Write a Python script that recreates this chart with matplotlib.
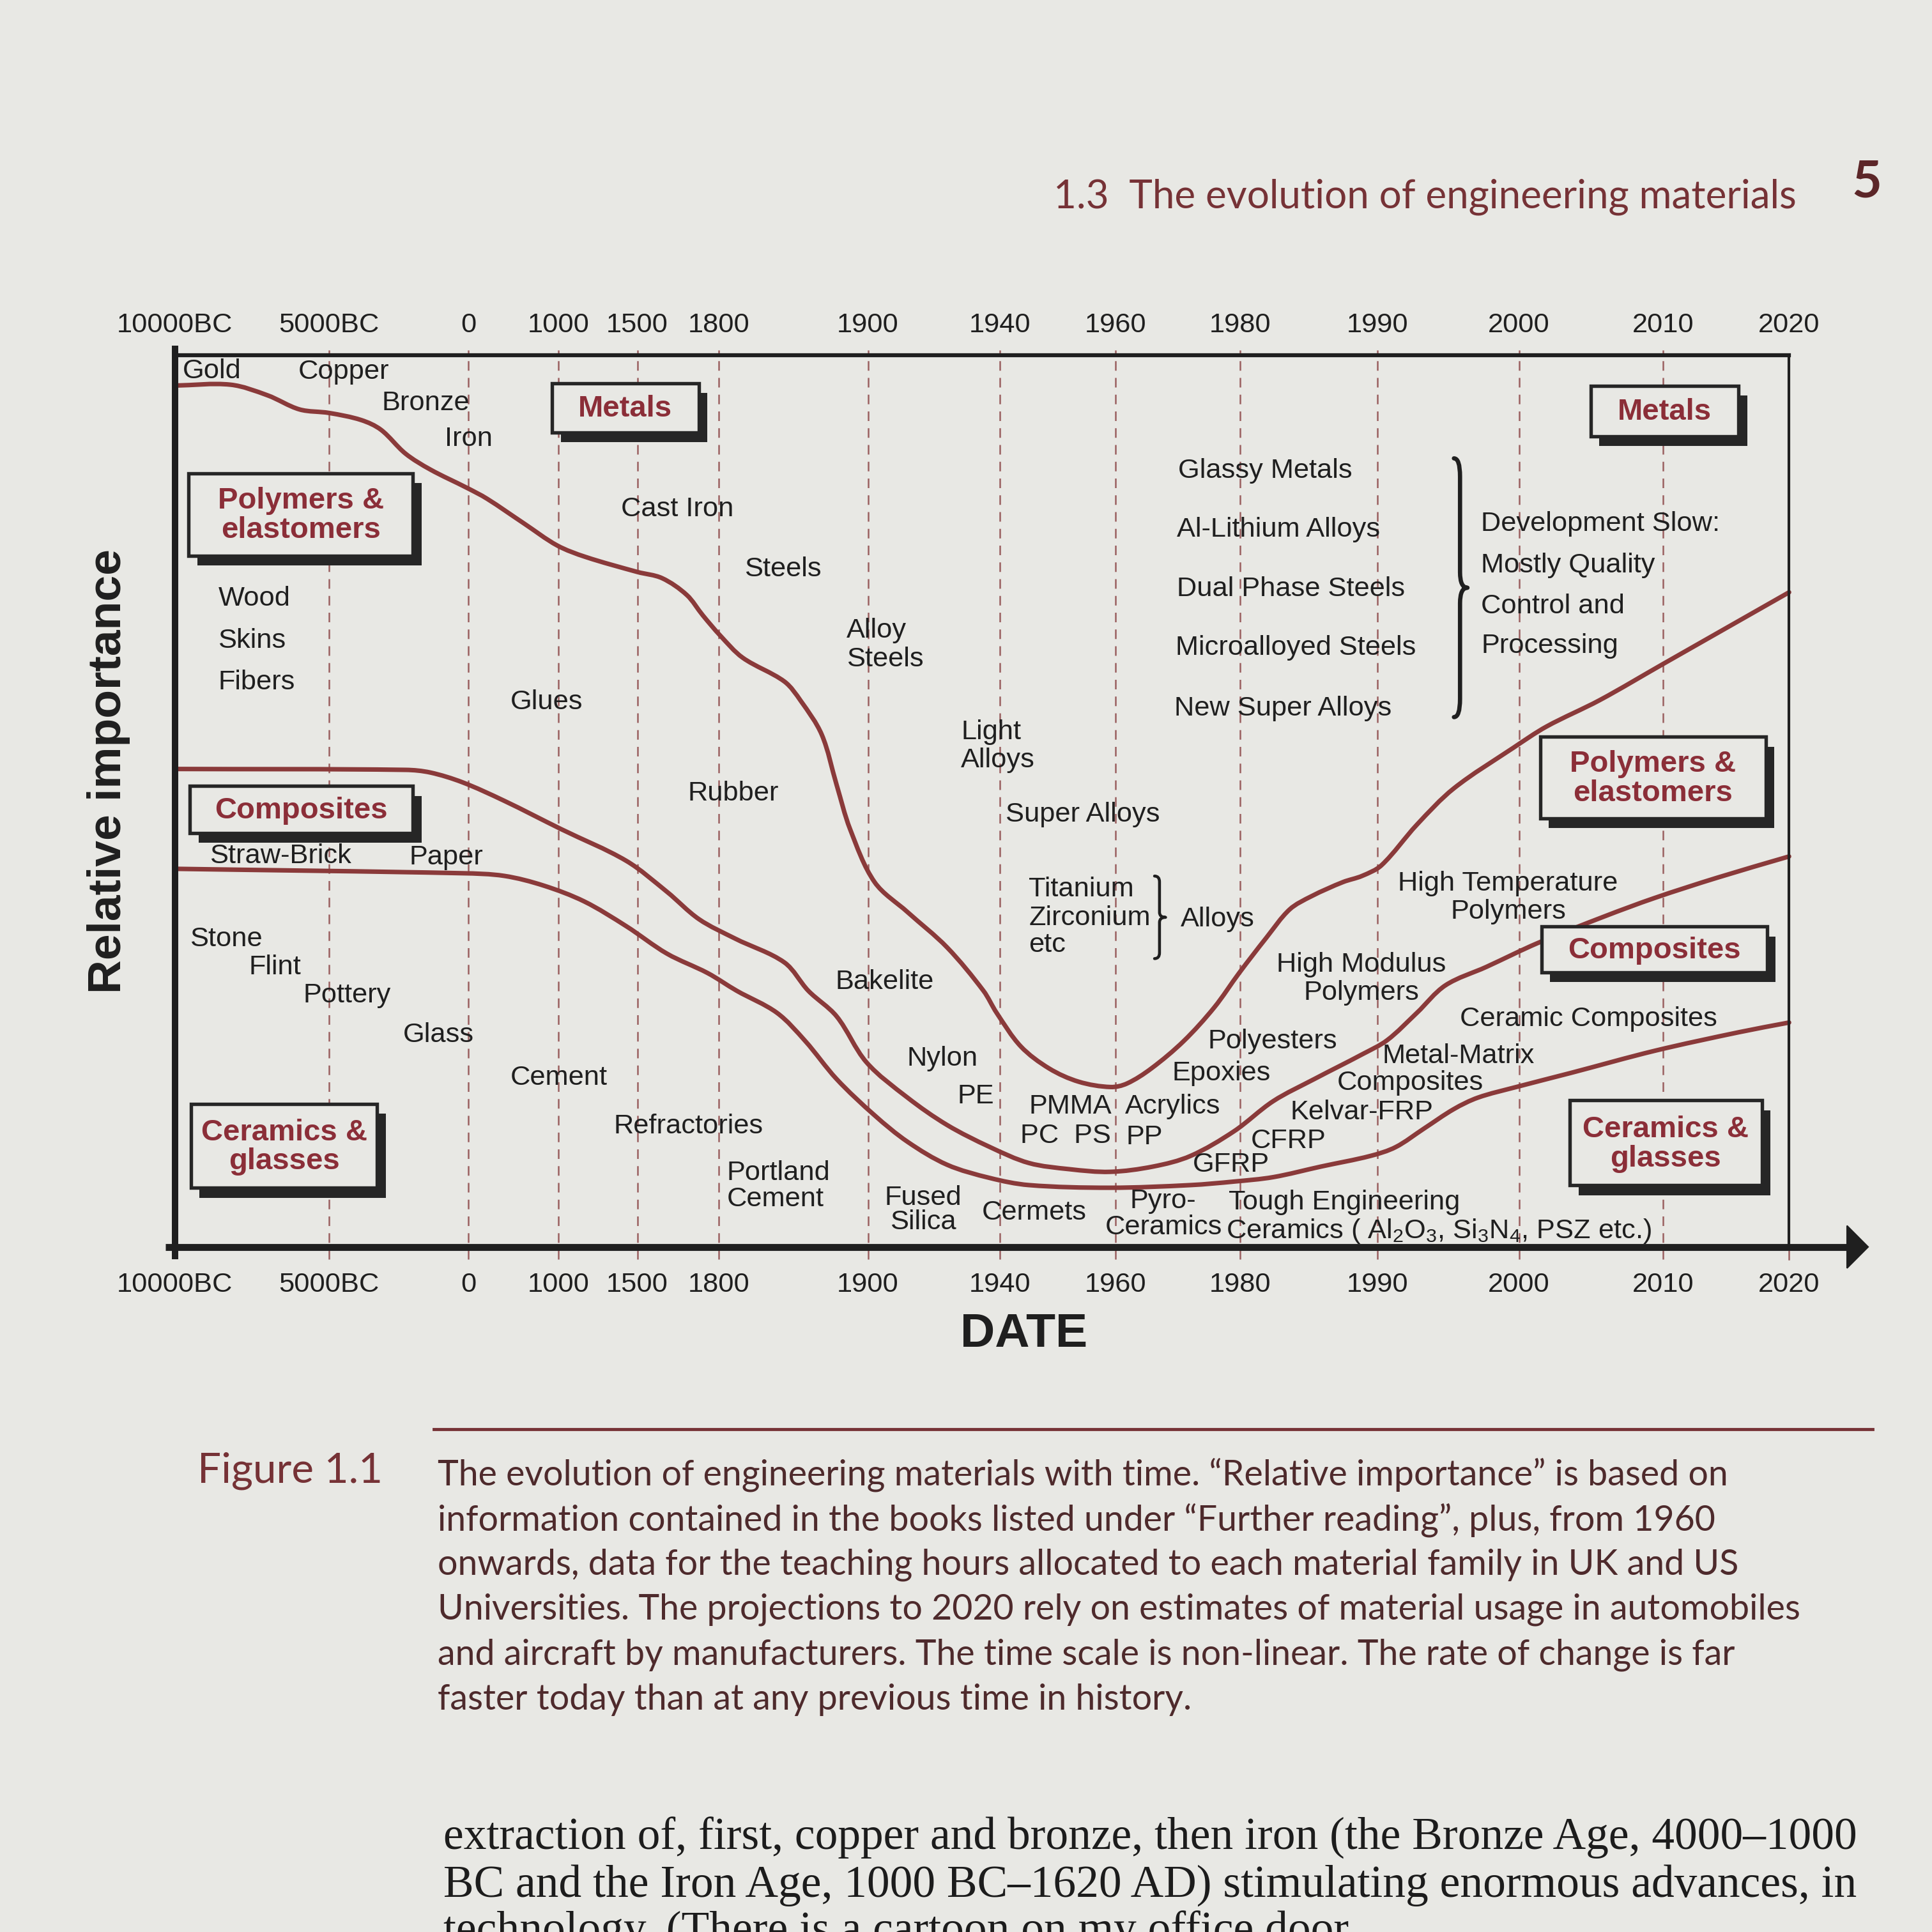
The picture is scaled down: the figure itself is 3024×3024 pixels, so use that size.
import numpy as np
import matplotlib
matplotlib.use("Agg")
import matplotlib.pyplot as plt
from matplotlib.patches import Rectangle, Polygon, PathPatch
from matplotlib.path import Path
from matplotlib.ticker import NullLocator

# ---------------------------------------------------------------- data
TICK_YEARS = [-10000, -5000, 0, 1000, 1500, 1800, 1900, 1940, 1960, 1980, 1990, 2000, 2010, 2020]
TICK_LABELS = ["10000BC", "5000BC", "0", "1000", "1500", "1800", "1900", "1940",
               "1960", "1980", "1990", "2000", "2010", "2020"]

# boundary between the metals band and the polymers band (relative importance, %)
METALS_POLY_YEAR = [-10000, -8200, -7000, -5960, -5000, -3850, -3140, -2260, -1370, -40,
                    205, 616, 986, 1172, 1500, 1591, 1682, 1741, 1801, 1816,
                    1844, 1855, 1869, 1879, 1888, 1902, 1912, 1924, 1935, 1939,
                    1943.6, 1948.5, 1953.6, 1959.1, 1961.8, 1965.7, 1970.9, 1975.8, 1979.8, 1981.9,
                    1983.6, 1985.2, 1987.5, 1988.9, 1990.3, 1992.8, 1995.4, 1999.6, 2001.9, 2005.6,
                    2010, 2020]
METALS_POLY_LEVEL = [97.5, 97.6, 96.4, 94.8, 94.4, 93.6, 92.5, 89.8, 88.0, 85.9,
                     84.7, 81.9, 79.4, 78.1, 76.4, 75.7, 73.8, 71.5, 69.2, 66.7,
                     64.0, 61.8, 58.0, 52.3, 47.3, 41.3, 37.9, 33.9, 29.0, 26.5,
                     22.7, 20.2, 18.7, 18.1, 18.5, 20.2, 23.3, 27.1, 31.0, 35.0,
                     38.2, 39.7, 41.3, 42.0, 43.2, 47.8, 51.9, 56.5, 58.9, 61.9,
                     66.0, 74.1]

# boundary between the polymers band and the composites band
POLY_COMP_YEAR = [-10000, -2256, -1371, -221, 397, 1016, 1430, 1609, 1727, 1811,
                  1844, 1860, 1879, 1899, 1912, 1924, 1937, 1945, 1952, 1959,
                  1966, 1972, 1979, 1982.4, 1985.4, 1988.9, 1990.7, 1992.8, 1994.8, 1997.7,
                  2001.3, 2005.9, 2009.4, 2014.3, 2020]
POLY_COMP_LEVEL = [54.1, 54.0, 53.7, 52.6, 50.5, 47.3, 43.7, 40.2, 37.1, 34.9,
                   32.2, 29.0, 26.1, 20.9, 16.9, 13.8, 11.3, 9.5, 8.8, 8.5,
                   9.1, 10.3, 13.1, 16.5, 19.0, 21.8, 23.4, 26.5, 29.6, 31.7,
                   34.4, 37.4, 39.5, 41.8, 44.2]

# boundary between the composites band and the ceramics band
COMP_CER_YEAR = [-10000, -221, 397, 836, 1164, 1430, 1609, 1759, 1812, 1839,
                 1858, 1879, 1902, 1912, 1924, 1937, 1945, 1959, 1972, 1979,
                 1982.4, 1985.9, 1989.5, 1991.3, 1993.3, 1995.4, 1997.1, 1999.8, 2003.6, 2009.4,
                 2016, 2020]
COMP_CER_LEVEL = [42.8, 42.3, 42.0, 40.9, 39.1, 36.3, 33.2, 31.0, 29.0, 26.5,
                  23.3, 19.0, 14.9, 11.9, 9.3, 7.8, 7.0, 6.7, 7.0, 7.4,
                  7.9, 9.1, 10.3, 11.3, 13.4, 15.6, 16.9, 18.1, 19.7, 22.2,
                  24.3, 25.4]

# ---------------------------------------------------------------- layout helpers
S = 1568.0                      # layout grid (square page)
def P(x, y):
    return (x / S, 1.0 - y / S)

def fs(px):                     # grid px -> points
    return px * 3024.0 / S / 300.0 * 72.0

PAGE = "#e8e8e4"
INK = "#1f1f1f"
CURVE = "#8a3a3a"
LABEL_RED = "#8b2e38"
DASH = "#9a6060"
MAROON = "#763236"

plt.rcParams["font.family"] = ["Liberation Sans", "DejaVu Sans"]
plt.rcParams["mathtext.fontset"] = "custom"
plt.rcParams["mathtext.rm"] = "Liberation Sans"
plt.rcParams["mathtext.default"] = "regular"

fig = plt.figure(figsize=(10.08, 10.08), dpi=300, facecolor=PAGE)

# non-linear time scale: year -> position along the axis
SCALE_POS = [0, 125, 238, 311, 375, 441, 562, 669, 763, 864, 975, 1090, 1207, 1309]
def fwd(x):
    return np.interp(x, TICK_YEARS, SCALE_POS)
def inv(p):
    return np.interp(p, SCALE_POS, TICK_YEARS)

L, R, T, B = 142, 1452, 295, 1012
ax = fig.add_axes([L / S, 1 - B / S, (R - L) / S, (B - T) / S])
ax.set_facecolor("none")
ax.set_xscale("function", functions=(fwd, inv))
ax.set_xlim(TICK_YEARS[0], TICK_YEARS[-1])
ax.set_ylim(0, 100)
for sp in ax.spines.values():
    sp.set_visible(False)
ax.set_yticks([])
ax.set_xticks(TICK_YEARS)
ax.set_xticklabels(TICK_LABELS)
ax.xaxis.set_minor_locator(NullLocator())
ax.tick_params(axis="x", which="both", length=0, pad=9.5, labelsize=fs(22.5),
               labelcolor=INK, top=True, labeltop=True, bottom=True, labelbottom=True)

TOP = 1.009   # top frame line sits a little above the 100 % level

# dashed guide lines at each date
for yr in TICK_YEARS[1:-1]:
    ax.plot([yr, yr], [-1.4, 101.5], color=DASH, lw=0.6, dashes=(6, 4.5),
            clip_on=False, zorder=1)
ax.plot([TICK_YEARS[-1]] * 2, [-1.4, 0], color=DASH, lw=0.6, clip_on=False, zorder=1)

# frame
ta = ax.transAxes
ax.plot([0, 0], [-0.014, TOP + 0.011], color=INK, lw=2.4, transform=ta, clip_on=False,
        solid_capstyle="butt", zorder=4)
ax.plot([0, 1], [TOP, TOP], color=INK, lw=1.5, transform=ta, clip_on=False, zorder=4)
ax.plot([1, 1], [0, TOP], color=INK, lw=1.0, transform=ta, clip_on=False, zorder=4)
ax.plot([-0.006, 1.037], [0, 0], color=INK, lw=2.6, transform=ta, clip_on=False,
        solid_capstyle="butt", zorder=4)
ax.add_patch(Polygon([[1.0359, 0.024], [1.049, 0.0], [1.0359, -0.024]], closed=True,
                     facecolor=INK, edgecolor=INK, lw=0.5, transform=ta, clip_on=False,
                     zorder=4))

# the three boundary curves: drawn smoothly through the read points, placed by the
# axes' own (non-linear) data transform
def smooth_curve(xs, ys):
    pix = ax.transData.transform(np.column_stack([xs, ys]))
    n = len(pix)
    d = np.hypot(*np.diff(pix, axis=0).T)
    tang = np.zeros_like(pix)
    tang[0] = (pix[1] - pix[0]) / d[0]
    tang[-1] = (pix[-1] - pix[-2]) / d[-1]
    for i in range(1, n - 1):
        tang[i] = (pix[i + 1] - pix[i - 1]) / (d[i - 1] + d[i])
    verts = [pix[0]]
    codes = [Path.MOVETO]
    for i in range(n - 1):
        verts += [pix[i] + tang[i] * d[i] / 3, pix[i + 1] - tang[i + 1] * d[i] / 3, pix[i + 1]]
        codes += [Path.CURVE4] * 3
    verts = ax.transAxes.inverted().transform(np.array(verts))
    ax.add_patch(PathPatch(Path(verts, codes), transform=ax.transAxes, fill=False,
                           edgecolor=CURVE, lw=1.7, joinstyle="round", capstyle="round",
                           clip_on=False, zorder=3))

for xs, ys in [(METALS_POLY_YEAR, METALS_POLY_LEVEL),
               (POLY_COMP_YEAR, POLY_COMP_LEVEL),
               (COMP_CER_YEAR, COMP_CER_LEVEL)]:
    smooth_curve(xs, ys)

# ---------------------------------------------------------------- boxed family labels
def box(x0, y0, x1, y1, text):
    off_x, off_y = 7, 8
    fig.patches.append(Rectangle(P(x0 + off_x, y1 + off_y), (x1 - x0) / S, (y1 - y0) / S,
                                 transform=fig.transFigure, facecolor="#262626",
                                 edgecolor="none", zorder=5))
    fig.patches.append(Rectangle(P(x0, y1), (x1 - x0) / S, (y1 - y0) / S,
                                 transform=fig.transFigure, facecolor=PAGE,
                                 edgecolor="#262626", lw=1.3, zorder=6))
    fig.text(*P((x0 + x1) / 2, (y0 + y1) / 2 + 1), text, ha="center", va="center",
             fontsize=fs(24.5), fontweight="bold", color=LABEL_RED, zorder=7,
             linespacing=1.05)

box(448, 311, 567, 351, "Metals")
box(153, 384, 335, 451, "Polymers &\nelastomers")
box(154, 638, 335, 676, "Composites")
box(155, 896, 306, 964, "Ceramics &\nglasses")
box(1291, 313, 1411, 354, "Metals")
box(1250, 598, 1433, 664, "Polymers &\nelastomers")
box(1251, 752, 1434, 789, "Composites")
box(1274, 893, 1430, 962, "Ceramics &\nglasses")

# ---------------------------------------------------------------- material names
LABELS = [
    ("Gold", 148, 301, "left"), ("Copper", 242, 302, "left"), ("Bronze", 310, 327, "left"),
    ("Iron", 361, 356, "left"), ("Cast Iron", 504, 413, "left"), ("Steels", 604, 462, "left"),
    ("Alloy", 687, 512, "left"), ("Steels", 687, 535, "left"),
    ("Light", 780, 594, "left"), ("Alloys", 780, 617, "left"),
    ("Super Alloys", 816, 661, "left"),
    ("Titanium", 835, 722, "left"), ("Zirconium", 835, 745, "left"), ("etc", 835, 767, "left"),
    ("Alloys", 958, 746, "left"),
    ("Glassy Metals", 956, 382, "left"), ("Al-Lithium Alloys", 955, 430, "left"),
    ("Dual Phase Steels", 955, 478, "left"), ("Microalloyed Steels", 954, 526, "left"),
    ("New Super Alloys", 953, 575, "left"),
    ("Development Slow:", 1202, 425, "left"), ("Mostly Quality", 1202, 459, "left"),
    ("Control and", 1202, 492, "left"), ("Processing", 1202, 524, "left"),
    ("Wood", 177, 486, "left"), ("Skins", 177, 520, "left"), ("Fibers", 177, 554, "left"),
    ("Glues", 414, 570, "left"), ("Rubber", 558, 644, "left"), ("Bakelite", 678, 797, "left"),
    ("Nylon", 736, 859, "left"), ("PE", 777, 890, "left"),
    ("PMMA", 835, 898, "left"), ("Acrylics", 913, 898, "left"),
    ("PC  PS", 828, 922, "left"), ("PP", 914, 923, "left"),
    ("Polyesters", 980, 845, "left"), ("Epoxies", 951, 871, "left"),
    ("High Modulus", 1105, 783, "center"), ("Polymers", 1105, 806, "center"),
    ("High Temperature", 1224, 717, "center"), ("Polymers", 1224, 740, "center"),
    ("Straw-Brick", 170, 695, "left"), ("Paper", 332, 696, "left"),
    ("Stone", 154, 762, "left"), ("Flint", 202, 785, "left"), ("Pottery", 246, 808, "left"),
    ("Glass", 327, 840, "left"), ("Cement", 414, 875, "left"), ("Refractories", 498, 914, "left"),
    ("Portland", 590, 952, "left"), ("Cement", 590, 973, "left"),
    ("Fused", 749, 972, "center"), ("Silica", 749, 992, "center"),
    ("Cermets", 797, 984, "left"),
    ("Pyro-", 917, 975, "left"), ("Ceramics", 897, 996, "left"),
    ("Tough Engineering", 997, 976, "left"),
    ("Ceramics ( Al$_2$O$_3$, Si$_3$N$_4$, PSZ etc.)", 995, 999, "left"),
    ("CFRP", 1015, 926, "left"), ("GFRP", 968, 945, "left"),
    ("Kelvar-FRP", 1047, 903, "left"),
    ("Metal-Matrix", 1122, 857, "left"), ("Composites", 1085, 879, "left"),
    ("Ceramic Composites", 1185, 827, "left"),
]
for txt, x, y, ha in LABELS:
    fig.text(*P(x, y), txt, ha=ha, va="center", fontsize=fs(22.5), color=INK, zorder=8)

# braces
def brace(x, y0, y1, w, lw):
    ym = (y0 + y1) / 2
    h = y1 - y0
    m = x + 0.45 * w
    pts = [(x, y0), (m, y0), (m, y0 + 0.07 * h),
           (m, ym - 0.06 * h), (m, ym), (x + w, ym),
           (m, ym), (m, ym + 0.06 * h),
           (m, y1 - 0.07 * h), (m, y1), (x, y1)]
    codes = [Path.MOVETO, Path.CURVE3, Path.CURVE3,
             Path.LINETO, Path.CURVE3, Path.CURVE3,
             Path.CURVE3, Path.CURVE3,
             Path.LINETO, Path.CURVE3, Path.CURVE3]
    verts = [P(a, b) for a, b in pts]
    fig.patches.append(PathPatch(Path(verts, codes), transform=fig.transFigure,
                                 fill=False, edgecolor=INK, lw=lw, zorder=8,
                                 capstyle="round", joinstyle="round"))

brace(1180, 372, 582, 11, 1.6)
brace(937, 711, 778, 9, 1.1)

# axis titles
fig.text(*P(88, 626), "Relative importance", rotation=90, ha="center", va="center",
         fontsize=fs(38), fontweight="bold", color=INK)
fig.text(*P(831, 1083), "DATE", ha="center", va="center", fontsize=fs(39),
         fontweight="bold", color=INK)

# ---------------------------------------------------------------- page text
fig.text(*P(855, 160), "1.3  The evolution of engineering materials", ha="left",
         va="center", fontsize=fs(32.2), color=MAROON, family=["Lato", "DejaVu Sans"])
fig.text(*P(1515, 148), "5", ha="center", va="center", fontsize=fs(42), color="#5c2628",
         fontweight="bold", family=["Lato", "DejaVu Sans"])

fig.lines.append(plt.Line2D([352 / S, 1520 / S], [1 - 1160 / S, 1 - 1160 / S],
                            transform=fig.transFigure, color=MAROON, lw=fs(2.5)))

fig.text(*P(160, 1194), "Figure 1.1", ha="left", va="center", fontsize=fs(34),
         color=MAROON, family=["Lato", "DejaVu Sans"])
CAPTION = [
    "The evolution of engineering materials with time. \u201cRelative importance\u201d is based on",
    "information contained in the books listed under \u201cFurther reading\u201d, plus, from 1960",
    "onwards, data for the teaching hours allocated to each material family in UK and US",
    "Universities. The projections to 2020 rely on estimates of material usage in automobiles",
    "and aircraft by manufacturers. The time scale is non-linear. The rate of change is far",
    "faster today than at any previous time in history.",
]
for i, line in enumerate(CAPTION):
    fig.text(*P(355, 1197 + i * 36.5), line, ha="left", va="center", fontsize=fs(28.8),
             color="#4e2a2c", family=["Lato", "DejaVu Sans"])

BODY = [
    "extraction of, first, copper and bronze, then iron (the Bronze Age, 4000\u20131000",
    "BC and the Iron Age, 1000 BC\u20131620 AD) stimulating enormous advances, in",
    "technology. (There is a cartoon on my office door",
]
for i, line in enumerate(BODY):
    fig.text(*P(360, 1492 + i * 38), line, ha="left", va="center", fontsize=fs(37),
             color="#1c1c1c", family=["Liberation Serif", "DejaVu Serif"])

fig.savefig("out.png", dpi=300, facecolor=PAGE)
